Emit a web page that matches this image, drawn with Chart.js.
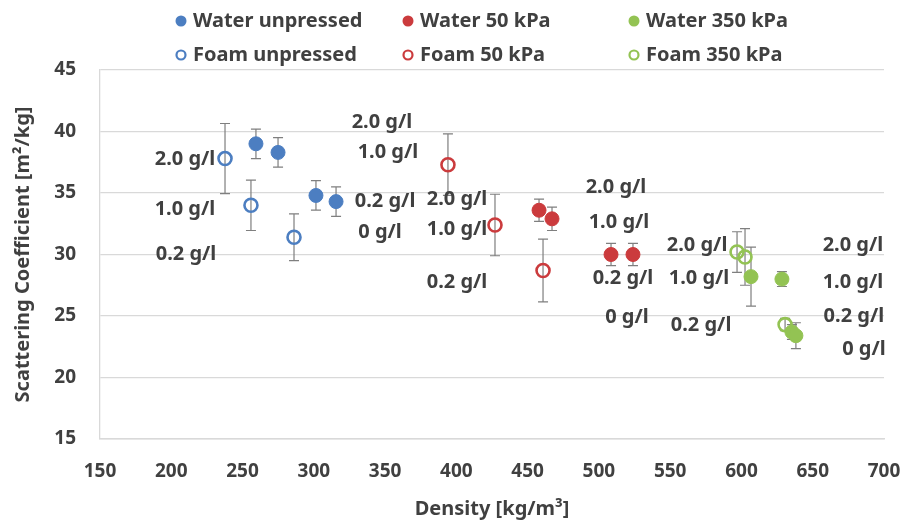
<!DOCTYPE html>
<html>
<head>
<meta charset="utf-8">
<script src="https://cdn.jsdelivr.net/npm/chart.js@4.4.1/dist/chart.umd.min.js"></script>
<style>
    html, body { margin: 0; padding: 0; background: #ffffff; }
    #wrap { width: 904px; height: 521px; }
</style>
</head>
<body>
<div id="wrap"><canvas id="plot-01" width="904" height="521"></canvas></div>
<script>
// density [kg/m3], scattering coefficient [m2/kg], error (+/-)
const waterUnpressedX = [259.4, 274.9, 301.5, 315.6];
const waterUnpressedY = [39.0, 38.3, 34.8, 34.3];
const waterUnpressedErr = [1.2, 1.2, 1.2, 1.2];

const foamUnpressedX = [237.7, 255.9, 286.1];
const foamUnpressedY = [37.8, 34.0, 31.4];
const foamUnpressedErr = [2.85, 2.05, 1.9];

const water50X = [458.0, 467.1, 508.5, 523.9];
const water50Y = [33.6, 32.9, 30.0, 30.0];
const water50Err = [0.9, 0.95, 0.9, 0.9];

const foam50X = [394.1, 427.1, 460.8];
const foam50Y = [37.3, 32.4, 28.7];
const foam50Err = [2.5, 2.5, 2.55];

const water350X = [606.7, 628.4, 635.4, 638.2];
const water350Y = [28.2, 28.0, 23.7, 23.4];
const water350Err = [2.4, 0.6, 0.6, 1.05];

const foam350X = [596.9, 602.5, 630.6];
const foam350Y = [30.2, 29.8, 24.3];
const foam350Err = [1.65, 2.3, 0.5];

const xTicks = [150, 700, 50];   // min, max, step
const yTicks = [15, 45, 5];

const font = '"Noto Sans", "Open Sans", sans-serif';
const textColor = '#404040';

// concentration labels, hung off a point of a series (dx/dy in px)
const concLabels = [
    {set: 1, at: 0, text: '2.0 g/l', dx: -40, dy: 1},
    {set: 1, at: 1, text: '1.0 g/l', dx: -66, dy: 4},
    {set: 1, at: 2, text: '0.2 g/l', dx: -108, dy: 17},
    {set: 0, at: 3, text: '0.2 g/l', dx: 49, dy: 0},
    {set: 0, at: 3, text: '0 g/l', dx: 44, dy: 31},
    {set: 3, at: 0, text: '2.0 g/l', dx: -66, dy: -42},
    {set: 3, at: 0, text: '1.0 g/l', dx: -60, dy: -12},
    {set: 3, at: 1, text: '2.0 g/l', dx: -38, dy: -26},
    {set: 3, at: 1, text: '1.0 g/l', dx: -38, dy: 4},
    {set: 3, at: 2, text: '0.2 g/l', dx: -86, dy: 12},
    {set: 2, at: 3, text: '2.0 g/l', dx: -17, dy: -67},
    {set: 2, at: 3, text: '1.0 g/l', dx: -14, dy: -32},
    {set: 2, at: 3, text: '0.2 g/l', dx: -10, dy: 24},
    {set: 2, at: 3, text: '0 g/l', dx: -6, dy: 63},
    {set: 5, at: 0, text: '2.0 g/l', dx: -40, dy: -7},
    {set: 5, at: 1, text: '1.0 g/l', dx: -46, dy: 21},
    {set: 5, at: 2, text: '0.2 g/l', dx: -84, dy: 1},
    {set: 4, at: 1, text: '2.0 g/l', dx: 71, dy: -34},
    {set: 4, at: 1, text: '1.0 g/l', dx: 71, dy: 3},
    {set: 4, at: 3, text: '0.2 g/l', dx: 58, dy: -19},
    {set: 4, at: 3, text: '0 g/l', dx: 68, dy: 14}
];

function points(xs, ys) {
    return xs.map((x, i) => ({x: x, y: ys[i]}));
}

function series(label, xs, ys, errs, color, hollow) {
    return {
        label: label,
        data: points(xs, ys),
        errors: errs,
        hollow: hollow,
        color: color,
        pointRadius: hollow ? 6.5 : 7,
        pointHoverRadius: hollow ? 6.5 : 7,
        pointBorderWidth: hollow ? 2.6 : 1,
        borderColor: color,
        backgroundColor: hollow ? 'rgba(0,0,0,0)' : color,
        showLine: false
    };
}

// vertical error bars with caps, drawn under the markers
const errorBars = {
    id: 'errorBars',
    beforeDatasetsDraw(chart) {
        const ctx = chart.ctx;
        const yScale = chart.scales.y;
        ctx.save();
        ctx.strokeStyle = '#7f7f7f';
        ctx.lineWidth = 1.2;
        chart.data.datasets.forEach((ds, i) => {
            const meta = chart.getDatasetMeta(i);
            ds.data.forEach((p, j) => {
                const x = meta.data[j].x;
                const top = yScale.getPixelForValue(p.y + ds.errors[j]);
                const bot = yScale.getPixelForValue(p.y - ds.errors[j]);
                ctx.beginPath();
                ctx.moveTo(x, top);
                ctx.lineTo(x, bot);
                ctx.moveTo(x - 5, top);
                ctx.lineTo(x + 5, top);
                ctx.moveTo(x - 5, bot);
                ctx.lineTo(x + 5, bot);
                ctx.stroke();
            });
        });
        ctx.restore();
    }
};

const concText = {
    id: 'concText',
    afterDatasetsDraw(chart) {
        const ctx = chart.ctx;
        ctx.save();
        ctx.font = 'bold 20px ' + font;
        ctx.fillStyle = textColor;
        ctx.textAlign = 'center';
        ctx.textBaseline = 'middle';
        concLabels.forEach(l => {
            const pt = chart.getDatasetMeta(l.set).data[l.at];
            ctx.fillText(l.text, pt.x + l.dx, pt.y + l.dy);
        });
        ctx.restore();
    }
};

// two-row legend: water series on top, foam series below
const gridLegend = {
    id: 'gridLegend',
    afterDraw(chart) {
        const ctx = chart.ctx;
        const cols = [181, 408, 634];
        const rows = [21, 55];
        ctx.save();
        ctx.font = 'bold 20px ' + font;
        ctx.textBaseline = 'middle';
        ctx.textAlign = 'left';
        chart.data.datasets.forEach((ds, i) => {
            const x = cols[Math.floor(i / 2)];
            const y = rows[i % 2];
            ctx.beginPath();
            if (ds.hollow) {
                ctx.arc(x, y, 4.5, 0, Math.PI * 2);
                ctx.lineWidth = 2.2;
                ctx.strokeStyle = ds.color;
                ctx.stroke();
            } else {
                ctx.arc(x, y, 5.5, 0, Math.PI * 2);
                ctx.fillStyle = ds.color;
                ctx.fill();
            }
            ctx.fillStyle = textColor;
            ctx.fillText(ds.label, x + 12, y);
        });
        ctx.restore();
    }
};

function plot01() {
    const blue = '#4C7EC1';
    const red = '#CB3B3D';
    const green = '#93C353';

    const data = {
        datasets: [
            series('Water unpressed', waterUnpressedX, waterUnpressedY, waterUnpressedErr, blue, false),
            series('Foam unpressed', foamUnpressedX, foamUnpressedY, foamUnpressedErr, blue, true),
            series('Water 50 kPa', water50X, water50Y, water50Err, red, false),
            series('Foam 50 kPa', foam50X, foam50Y, foam50Err, red, true),
            series('Water 350 kPa', water350X, water350Y, water350Err, green, false),
            series('Foam 350 kPa', foam350X, foam350Y, foam350Err, green, true)
        ]
    };

    const config = {
        type: 'scatter',
        data: data,
        options: {
            responsive: false,
            animation: false,
            layout: {
                padding: {top: 70, right: 20, left: 0, bottom: 0}
            },
            scales: {
                x: {
                    min: xTicks[0],
                    max: xTicks[1],
                    ticks: {
                        stepSize: xTicks[2],
                        padding: 21,
                        color: textColor,
                        font: {family: font, size: 19, weight: 'bold'}
                    },
                    grid: {display: false, drawTicks: false},
                    border: {display: true, color: '#d9d9d9', width: 1.5},
                    title: {
                        display: true,
                        text: 'Density [kg/m³]',
                        color: textColor,
                        font: {family: font, size: 20, weight: 'bold'},
                        padding: {top: 0, bottom: 0}
                    },
                    afterFit(scale) {
                        scale.height = 82;
                        // let the end labels hang past the plot edge
                        scale.paddingLeft = 0;
                        scale.paddingRight = 0;
                    }
                },
                y: {
                    min: yTicks[0],
                    max: yTicks[1],
                    ticks: {
                        stepSize: yTicks[2],
                        padding: 24,
                        color: textColor,
                        font: {family: font, size: 19, weight: 'bold'}
                    },
                    grid: {color: '#d9d9d9', lineWidth: 1.3, drawTicks: false},
                    border: {display: true, color: '#d9d9d9', width: 1.3},
                    title: {
                        display: true,
                        text: 'Scattering Coefficient [m²/kg]',
                        color: textColor,
                        font: {family: font, size: 20, weight: 'bold'},
                        padding: {top: 11, bottom: 0}
                    },
                    afterFit(scale) {
                        scale.width = 100;
                    }
                }
            },
            plugins: {
                legend: {display: false},
                tooltip: {enabled: false}
            }
        },
        plugins: [errorBars, concText, gridLegend]
    };

    const myChart = new Chart(
        document.getElementById('plot-01').getContext('2d'),
        config
    );
}

plot01();
</script>
</body>
</html>
